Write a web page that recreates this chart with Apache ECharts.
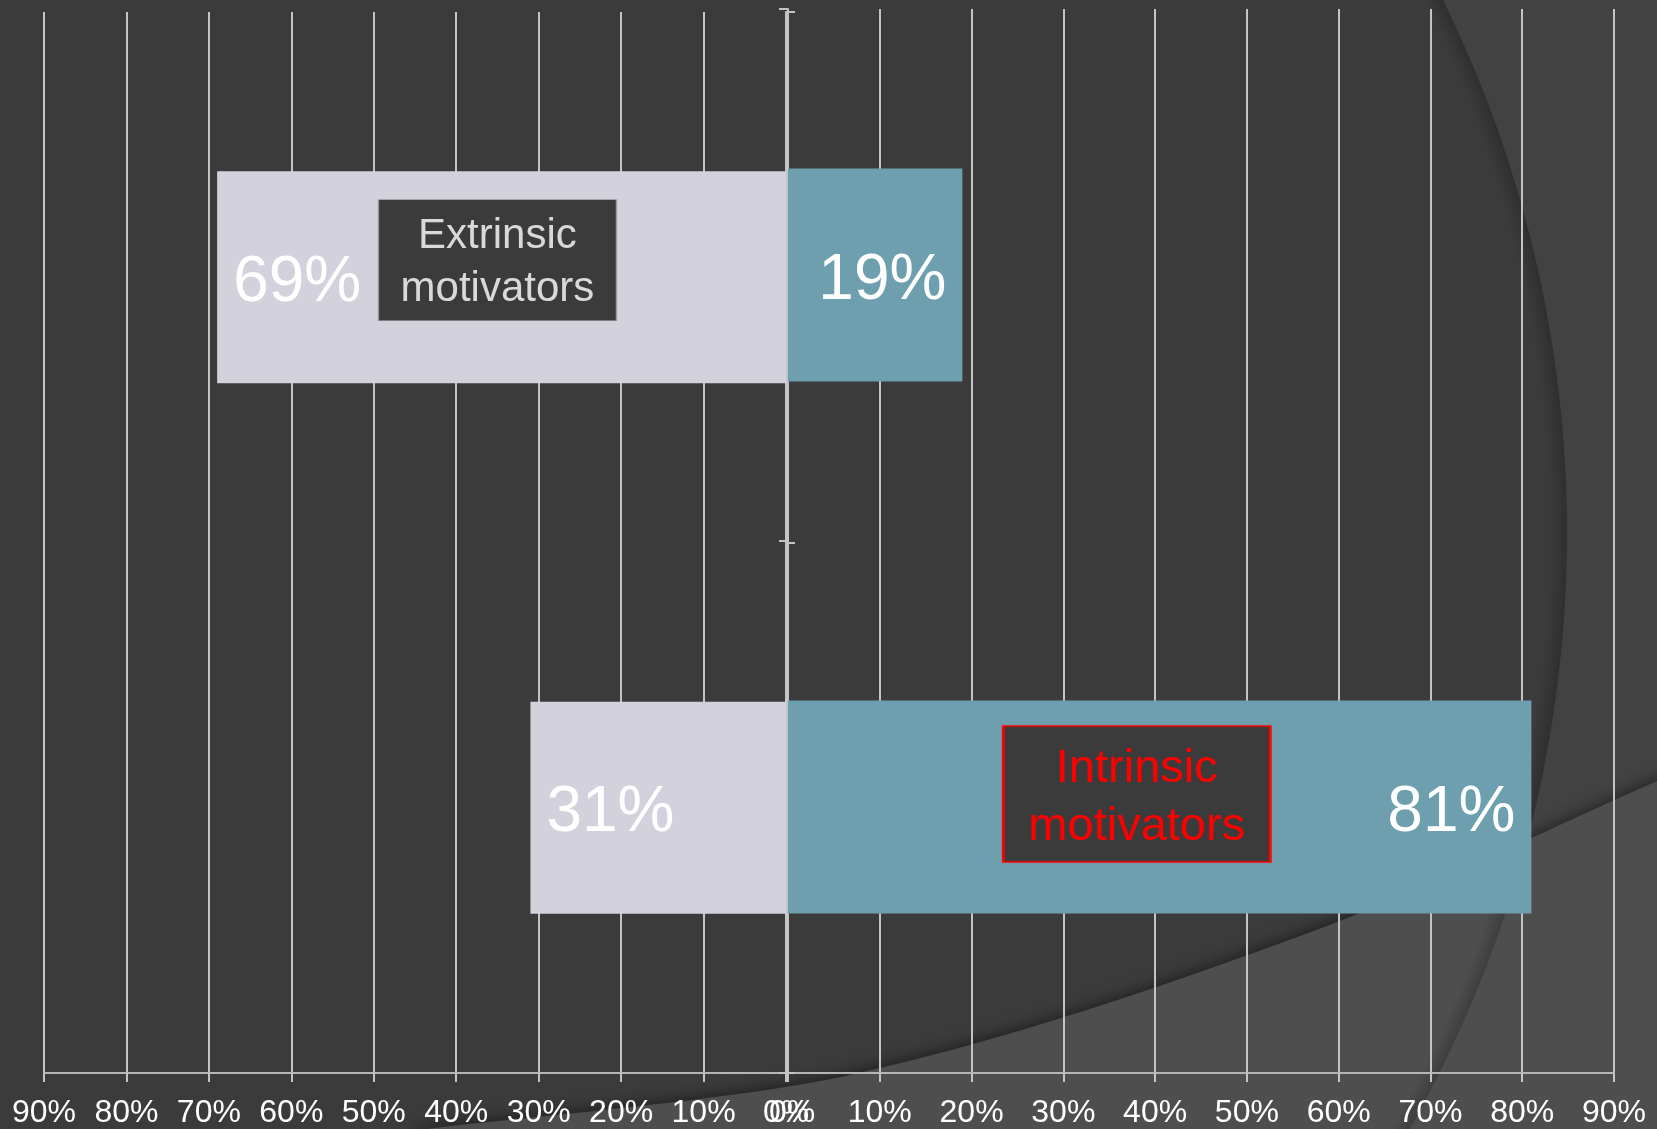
<!DOCTYPE html>
<html>
<head>
<meta charset="utf-8">
<script src="https://cdn.jsdelivr.net/npm/echarts@6/dist/echarts.min.js"></script>
<style>
  html, body { margin: 0; padding: 0; background: #3b3b3b; }
  #chart { width: 1657px; height: 1129px; }
</style>
</head>
<body>
<div id="chart"></div>
<script>
// ---- data ----
var categories = ['Extrinsic motivators', 'Intrinsic motivators'];
var leftValues = [69, 31];    // light bars, extending left
var rightValues = [19, 81];   // teal bars, extending right
var tickValues = [0, 10, 20, 30, 40, 50, 60, 70, 80, 90];
var annotations = [
  { text: 'Extrinsic\nmotivators', category: 'Extrinsic motivators', side: 'left', value: 35 },
  { text: 'Intrinsic\nmotivators', category: 'Intrinsic motivators', side: 'right', value: 38 }
];

var FONT = '"Liberation Sans", Arial, sans-serif';
var chart = echarts.init(document.getElementById('chart'), null, { renderer: 'canvas' });

var gridColor = '#c4c4c4';

function xAxisCfg(gridIndex, inverse) {
  return {
    type: 'value', gridIndex: gridIndex, min: tickValues[0], max: tickValues[tickValues.length - 1],
    interval: tickValues[1] - tickValues[0], inverse: inverse,
    axisLine: { show: true, lineStyle: { color: '#b5b5b5', width: 2 } },
    axisTick: { show: true, length: 9, lineStyle: { color: '#c4c4c4', width: 2 } },
    splitLine: { show: true, lineStyle: { color: gridColor, width: 2 } },
    axisLabel: {
      color: '#ffffff', fontFamily: FONT, fontSize: 32, margin: 24,
      formatter: function (v) { return (!inverse && v === 0) ? '{z|' + v + '%}' : v + '%'; },
      rich: { z: { color: '#ffffff', fontFamily: FONT, fontSize: 32, padding: [0, 0, 4, 8] } }
    }
  };
}
function yAxisCfg(gridIndex, position) {
  return {
    type: 'category', gridIndex: gridIndex, data: categories, inverse: true, position: position,
    axisLine: { show: true, onZero: false, lineStyle: { color: '#c4c4c4', width: 2 } },
    axisTick: { show: true, length: 9, lineStyle: { color: '#c4c4c4', width: 2 } },
    axisLabel: { show: false },
    splitLine: { show: false }
  };
}

var leftAnn = annotations.filter(function (a) { return a.side === 'left'; });
var rightAnn = annotations.filter(function (a) { return a.side === 'right'; });

var option = {
  backgroundColor: '#3b3b3b',
  animation: false,
  graphic: [
    { type: 'rect', z: -10, silent: true, shape: { x: 0, y: 0, width: 1657, height: 1129 }, style: { fill: '#424242' } },
    { type: 'circle', z: -9, silent: true, shape: { cx: 360, cy: 533, r: 1207 }, style: { fill: '#3b3b3b' } },
    { type: 'polygon', z: -8, silent: true,
      shape: { smooth: 0.35, points: [[420, 1135], [850, 1075], [1300, 936], [1657, 781], [1700, 760], [1700, 1135]] },
      style: { fill: '#4e4e4e', shadowBlur: 14, shadowColor: 'rgba(0,0,0,0.45)', shadowOffsetY: -3 } },
    { type: 'circle', z: -7, silent: true, shape: { cx: 360, cy: 533, r: 1207 },
      style: { fill: { type: 'radial', x: 0.5, y: 0.5, r: 0.5, colorStops: [
        { offset: 0, color: 'rgba(0,0,0,0)' },
        { offset: 0.986, color: 'rgba(0,0,0,0)' },
        { offset: 0.997, color: 'rgba(0,0,0,0.16)' },
        { offset: 1, color: 'rgba(0,0,0,0.2)' }
      ] } } }
  ],
  grid: [
    { left: 44, right: 871, top: 12, bottom: 52 },
    { left: 788, right: 43, top: 9, bottom: 55 }
  ],
  xAxis: [xAxisCfg(0, true), xAxisCfg(1, false)],
  yAxis: [yAxisCfg(0, 'right'), yAxisCfg(1, 'left')],
  series: [
    {
      name: 'Left', type: 'bar', xAxisIndex: 0, yAxisIndex: 0, data: leftValues,
      barCategoryGap: '60%',
      itemStyle: { color: '#d3d1dc' },
      label: { show: true, position: 'insideLeft', distance: 16, offset: [0, 6], color: '#ffffff', fontFamily: FONT, fontSize: 64, formatter: function (p) { return p.value + '%'; } },
      markPoint: {
        symbol: 'rect', symbolSize: [238, 121], symbolOffset: [0, -17],
        itemStyle: { color: '#3b3b3b', borderColor: '#9a9a9a', borderWidth: 1 },
        label: { show: true, position: 'inside', offset: [0, 3], color: '#d9d9d9', fontFamily: FONT, fontSize: 42, lineHeight: 53, formatter: function (p) { return p.name; } },
        data: leftAnn.map(function (a) { return { name: a.text, coord: [a.value, a.category] }; })
      }
    },
    {
      name: 'Right', type: 'bar', xAxisIndex: 1, yAxisIndex: 1, data: rightValues,
      barCategoryGap: '60%',
      itemStyle: { color: '#6e9fae' },
      label: { show: true, position: 'insideRight', distance: 16, offset: [0, 6], color: '#ffffff', fontFamily: FONT, fontSize: 64, formatter: function (p) { return p.value + '%'; } },
      markPoint: {
        symbol: 'rect', symbolSize: [267, 136], symbolOffset: [0, -13],
        itemStyle: { color: '#3b3b3b', borderColor: '#ff0000', borderWidth: 2 },
        label: { show: true, position: 'inside', offset: [0, 4], color: '#ff0000', fontFamily: FONT, fontSize: 47, lineHeight: 58, formatter: function (p) { return p.name; } },
        data: rightAnn.map(function (a) { return { name: a.text, coord: [a.value, a.category] }; })
      }
    }
  ]
};
chart.setOption(option);
</script>
</body>
</html>
